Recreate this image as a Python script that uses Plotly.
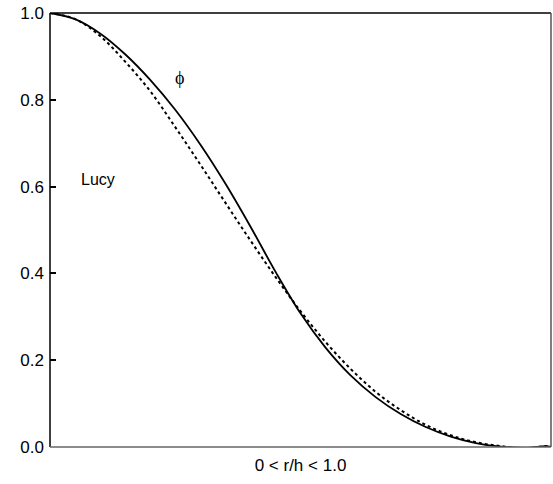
import plotly.graph_objects as go

# r/h positions (0 .. 1)
q_values = [0.0, 0.05, 0.1, 0.15, 0.2, 0.25, 0.3, 0.35, 0.4, 0.45, 0.5,
            0.55, 0.6, 0.65, 0.7, 0.75, 0.8, 0.85, 0.9, 0.95, 0.99, 1.0]

# solid curve
lucy_solid = [1.0, 0.986, 0.953, 0.905, 0.846, 0.777, 0.697, 0.607, 0.508, 0.404, 0.308,
              0.229, 0.165, 0.115, 0.076, 0.046, 0.024, 0.009, 0.001, -0.002, 0.002, 0.0]

# dotted comparison curve
ref_dotted = [1.0, 0.986, 0.947, 0.888, 0.820, 0.737, 0.651, 0.563, 0.476, 0.392, 0.313,
              0.242, 0.18, 0.127, 0.085, 0.051, 0.027, 0.011, 0.002, -0.003, 0.002, 0.0]

y_ticks = [0.0, 0.2, 0.4, 0.6, 0.8, 1.0]
y_ticklabels = ["0.0", "0.2", "0.4", "0.6", "0.8", "1.0"]
x_title = "0 &lt; r/h &lt; 1.0"

fig = go.Figure()
fig.add_trace(go.Scatter(x=q_values, y=ref_dotted, mode="lines", line_shape="spline",
                         line=dict(color="black", width=2, dash="dot"), showlegend=False))
fig.add_trace(go.Scatter(x=q_values, y=lucy_solid, mode="lines", line_shape="spline",
                         line=dict(color="black", width=1.8), showlegend=False))

fig.add_annotation(x=0.259, y=0.851, text="ϕ", showarrow=False,
                   font=dict(family="Liberation Serif", size=18, color="black"))
fig.add_annotation(x=0.0956, y=0.616, text="Lucy", showarrow=False,
                   font=dict(family="Liberation Sans", size=16, color="black"))

# frame
for x0, y0, x1, y1, c in [(0, 1, 1, 1, "black"), (0, 0, 0, 1, "black"),
                          (1, 0, 1, 1, "#555"), (0, 0, 1, 0, "#666")]:
    fig.add_shape(type="line", xref="paper", yref="paper", x0=x0, y0=y0, x1=x1, y1=y1,
                  line=dict(color=c, width=1.5))

fig.update_layout(
    width=553, height=484,
    margin=dict(l=50, r=2, t=13, b=37, autoexpand=False),
    plot_bgcolor="white", paper_bgcolor="white",
    font=dict(family="Liberation Sans", size=17, color="black"),
    xaxis=dict(range=[0, 1.0], showticklabels=False, ticks="", showgrid=False,
               zeroline=False, showline=False, automargin=False,
               title=dict(text=x_title, standoff=12,
                          font=dict(family="Liberation Sans", size=17))),
    yaxis=dict(range=[0, 1.0], tickvals=y_ticks, ticktext=y_ticklabels, ticks="inside",
               ticklen=6, tickcolor="black", tickwidth=1.5, showgrid=False, zeroline=False,
               showline=False, ticklabelstandoff=5, automargin=False,
               tickfont=dict(family="Liberation Sans", size=17)),
)

fig.write_html("out.html", config={"displayModeBar": False},
               post_script="document.body.style.margin='0';document.body.style.overflow='hidden';")
